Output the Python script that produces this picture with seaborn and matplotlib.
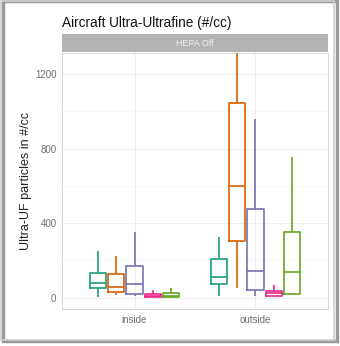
import numpy as np
import pandas as pd
import matplotlib
matplotlib.use("Agg")
import matplotlib.pyplot as plt
import seaborn as sns
from matplotlib.patches import Rectangle

# Data: five-number summaries (min, q1, median, q3, max)
locations = ["inside", "outside"]
groups = ["A", "B", "C", "D", "E"]
colors = ["#1b9e77", "#d95f02", "#7570b3", "#e7298a", "#66a61e"]

inside_A = [4, 50, 79, 132, 253]
inside_B = [16, 32, 57, 125, 225]
inside_C = [12, 20, 73, 171, 352]
inside_D = [4, 5, 11, 20, 43]
inside_E = [4, 5, 12, 25, 50]

outside_A = [7, 73, 114, 207, 328]
outside_B = [55, 302, 600, 1046, 1330]
outside_C = [12, 43, 143, 478, 957]
outside_D = [7, 12, 25, 37, 66]
outside_E = [18, 21, 136, 352, 757]

y_ticks = [0, 400, 800, 1200]

rows = []
for loc, series in [("inside", [inside_A, inside_B, inside_C, inside_D, inside_E]),
                    ("outside", [outside_A, outside_B, outside_C, outside_D, outside_E])]:
    for g, vals in zip(groups, series):
        for v in vals:
            rows.append({"location": loc, "group": g, "value": v})
df = pd.DataFrame(rows)

sns.set_style("white")
plt.rcParams["font.family"] = ["Liberation Sans", "DejaVu Sans"]

fig = plt.figure(figsize=(3.40, 3.46), dpi=100)
ax = fig.add_axes([62/340, 1 - 309/346, (328-62)/340, (309-53)/346])

sns.boxplot(data=df, x="location", y="value", hue="group", order=locations,
            hue_order=groups, palette=colors, fill=False, whis=np.inf,
            width=0.76, gap=0.12, linewidth=1.2, showcaps=False, ax=ax,
            legend=False, zorder=3)

ax.set_xlim(-0.6, 1.6)
ax.set_ylim(-60, 1312)
ax.set_yticks(y_ticks)
ax.set_yticks([200, 600, 1000], minor=True)
ax.grid(True, which="major", color="#ebebeb", lw=0.6)
ax.grid(True, which="minor", color="#f4f4f4", lw=0.4)
ax.set_axisbelow(True)
for s in ax.spines.values():
    s.set_color("#d6d6d6")
    s.set_linewidth(0.7)
ax.tick_params(axis="both", length=0, labelsize=7, colors="#6e6e6e", pad=4)
ax.set_xlabel("")
ax.set_ylabel("Ultra-UF particles in #/cc", fontsize=9, color="#222222", labelpad=2)

# Facet strip
fig.patches.append(Rectangle((62/340, 1 - 52/346), (328-62)/340, 18/346,
                             transform=fig.transFigure, facecolor="#b3b3b3",
                             edgecolor="none", zorder=1))
fig.text((62+328)/2/340, 1 - 43/346, "HEPA Off", ha="center", va="center",
         fontsize=6.5, color="#f2f2f2")

fig.text(62/340, 1 - 23/346, "Aircraft Ultra-Ultrafine (#/cc)", ha="left",
         va="center", fontsize=9.8, color="#111111")

# Outer frame with shadow
fig.patches.append(Rectangle((3/340, 5/346), 334/340, 340/346, transform=fig.transFigure,
                             facecolor="none", edgecolor="#9a9a9a", lw=2.5, zorder=0))
fig.patches.append(Rectangle((1/340, 6/346), 333/340, 339/346, transform=fig.transFigure,
                             facecolor="none", edgecolor="#cfcfcf", lw=1.2, zorder=0))

fig.savefig("out.png", dpi=100)
